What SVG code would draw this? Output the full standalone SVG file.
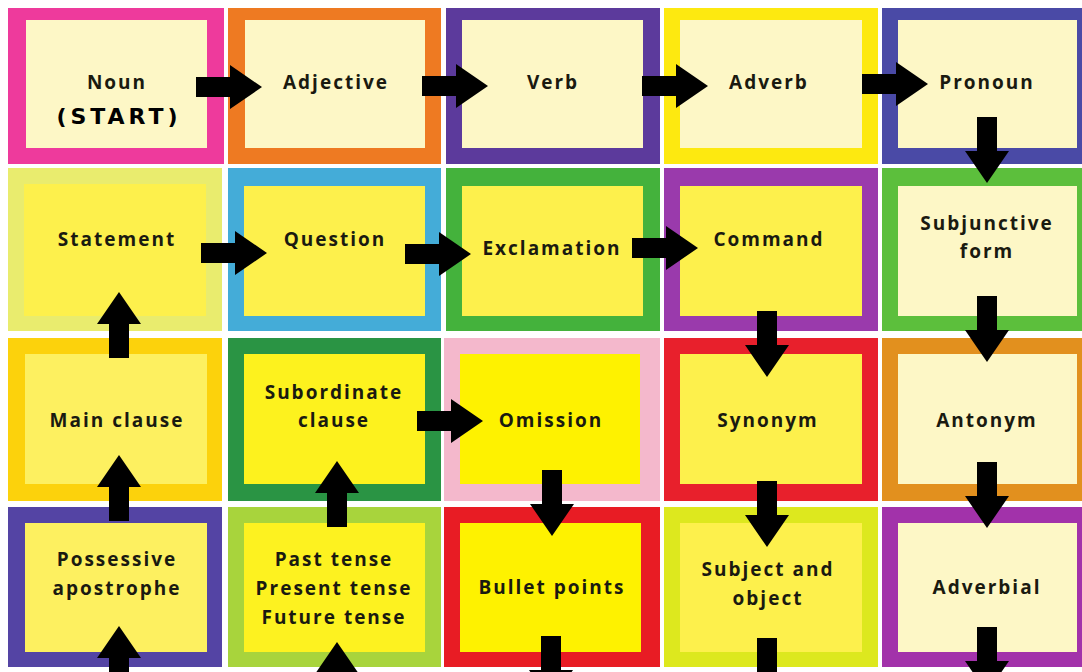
<svg xmlns="http://www.w3.org/2000/svg" xmlns:xlink="http://www.w3.org/1999/xlink" width="1082" height="672" viewBox="0 0 1082 672">
<style>
.lbl{font-family:"Open Sans","Liberation Sans",sans-serif;font-weight:700;font-size:19px;fill:#1a1a10;text-anchor:middle;letter-spacing:2px}
.start{font-family:"DejaVu Sans","Open Sans",sans-serif;font-weight:700;font-size:22px;letter-spacing:4px;fill:#000}
.cream{fill:#fdf7c6}
.yel{fill:#fdf04c}
.arrow{fill:#000}
</style>
<defs>
<path id="arr" d="M0,-10 H34 V-22 L66,0 L34,22 V10 H0 Z"/>
</defs>
<rect width="1082" height="672" fill="#ffffff"/>

<g id="noun"><rect x="8" y="8" width="216" height="156" fill="#ee3a9c"/><rect class="cream" x="26" y="20" width="181" height="128"/><text class="lbl" x="117" y="89">Noun</text><text class="lbl start" x="119" y="124">(START)</text></g>
<g id="adjective"><rect x="228" y="8" width="213" height="156" fill="#ee7a22"/><rect class="cream" x="245" y="20" width="180" height="128"/><text class="lbl" x="336" y="89">Adjective</text></g>
<g id="verb"><rect x="446" y="8" width="214" height="156" fill="#5c3a9c"/><rect class="cream" x="462" y="20" width="181" height="128"/><text class="lbl" x="553" y="89">Verb</text></g>
<g id="adverb"><rect x="664" y="8" width="214" height="156" fill="#fde910"/><rect class="cream" x="680" y="20" width="182" height="128"/><text class="lbl" x="769" y="89">Adverb</text></g>
<g id="pronoun"><rect x="882" y="8" width="210" height="156" fill="#4a4aa6"/><rect class="cream" x="898" y="20" width="179" height="128"/><text class="lbl" x="987" y="89">Pronoun</text></g>

<g id="statement"><rect x="8" y="168" width="214" height="163" fill="#e9ec6e"/><rect x="24" y="184" width="182" height="132" fill="#fdf04c"/><text class="lbl" x="117" y="246">Statement</text></g>
<g id="question"><rect x="228" y="168" width="213" height="163" fill="#44acd8"/><rect class="yel" x="244" y="186" width="181" height="130"/><text class="lbl" x="335" y="246">Question</text></g>
<g id="exclamation"><rect x="446" y="168" width="214" height="163" fill="#44b23c"/><rect class="yel" x="462" y="186" width="181" height="130"/><text class="lbl" x="552" y="255">Exclamation</text></g>
<g id="command"><rect x="664" y="168" width="214" height="163" fill="#9a3aac"/><rect class="yel" x="680" y="186" width="182" height="130"/><text class="lbl" x="769" y="246">Command</text></g>
<g id="subjunctive"><rect x="882" y="168" width="210" height="163" fill="#5cbf3c"/><rect class="cream" x="898" y="186" width="179" height="130"/><text class="lbl" x="987" y="230">Subjunctive</text><text class="lbl" x="987" y="258">form</text></g>

<g id="main-clause"><rect x="8" y="338" width="214" height="163" fill="#fcd20c"/><rect x="25" y="354" width="182" height="130" fill="#fdf060"/><text class="lbl" x="117" y="427">Main clause</text></g>
<g id="subordinate"><rect x="228" y="338" width="213" height="163" fill="#2a9444"/><rect x="244" y="354" width="181" height="130" fill="#fdf21e"/><text class="lbl" x="334" y="399">Subordinate</text><text class="lbl" x="334" y="427">clause</text></g>
<g id="omission"><rect x="444" y="338" width="216" height="163" fill="#f4b8cc"/><rect x="460" y="354" width="180" height="130" fill="#fef200"/><text class="lbl" x="551" y="427">Omission</text></g>
<g id="synonym"><rect x="664" y="338" width="214" height="163" fill="#e8202c"/><rect class="yel" x="680" y="354" width="182" height="130"/><text class="lbl" x="768" y="427">Synonym</text></g>
<g id="antonym"><rect x="882" y="338" width="210" height="163" fill="#e2901e"/><rect class="cream" x="898" y="354" width="179" height="130"/><text class="lbl" x="987" y="427">Antonym</text></g>

<g id="possessive"><rect x="8" y="507" width="214" height="160" fill="#5444a4"/><rect x="25" y="523" width="182" height="129" fill="#fdf060"/><text class="lbl" x="117" y="566">Possessive</text><text class="lbl" x="117" y="595">apostrophe</text></g>
<g id="tenses"><rect x="228" y="507" width="213" height="160" fill="#a8d43c"/><rect x="244" y="523" width="181" height="129" fill="#fdf220"/><text class="lbl" x="334" y="566">Past tense</text><text class="lbl" x="334" y="595">Present tense</text><text class="lbl" x="334" y="624">Future tense</text></g>
<g id="bullet-points"><rect x="444" y="507" width="216" height="160" fill="#e81c24"/><rect x="460" y="523" width="181" height="129" fill="#fef200"/><text class="lbl" x="552" y="594">Bullet points</text></g>
<g id="subject-object"><rect x="664" y="507" width="214" height="160" fill="#dde81e"/><rect class="yel" x="680" y="523" width="182" height="129"/><text class="lbl" x="768" y="576">Subject and</text><text class="lbl" x="768" y="605">object</text></g>
<g id="adverbial"><rect x="882" y="507" width="210" height="160" fill="#a232aa"/><rect class="cream" x="898" y="523" width="179" height="129"/><text class="lbl" x="987" y="594">Adverbial</text></g>

<g id="connectors" class="arrow">
<use xlink:href="#arr" transform="translate(196,87)"/>
<use xlink:href="#arr" transform="translate(422,86)"/>
<use xlink:href="#arr" transform="translate(642,86)"/>
<use xlink:href="#arr" transform="translate(862,84)"/>
<use xlink:href="#arr" transform="translate(201,253)"/>
<use xlink:href="#arr" transform="translate(405,254)"/>
<use xlink:href="#arr" transform="translate(632,248)"/>
<use xlink:href="#arr" transform="translate(417,421)"/>
<use xlink:href="#arr" transform="translate(987,117) rotate(90)"/>
<use xlink:href="#arr" transform="translate(987,296) rotate(90)"/>
<use xlink:href="#arr" transform="translate(767,311) rotate(90)"/>
<use xlink:href="#arr" transform="translate(987,462) rotate(90)"/>
<use xlink:href="#arr" transform="translate(767,481) rotate(90)"/>
<use xlink:href="#arr" transform="translate(552,470) rotate(90)"/>
<use xlink:href="#arr" transform="translate(551,636) rotate(90)"/>
<use xlink:href="#arr" transform="translate(767,638) rotate(90)"/>
<use xlink:href="#arr" transform="translate(987,627) rotate(90)"/>
<use xlink:href="#arr" transform="translate(119,358) rotate(-90)"/>
<use xlink:href="#arr" transform="translate(119,521) rotate(-90)"/>
<use xlink:href="#arr" transform="translate(337,527) rotate(-90)"/>
<use xlink:href="#arr" transform="translate(119,692) rotate(-90)"/>
<use xlink:href="#arr" transform="translate(337,708) rotate(-90)"/>
</g>
</svg>
